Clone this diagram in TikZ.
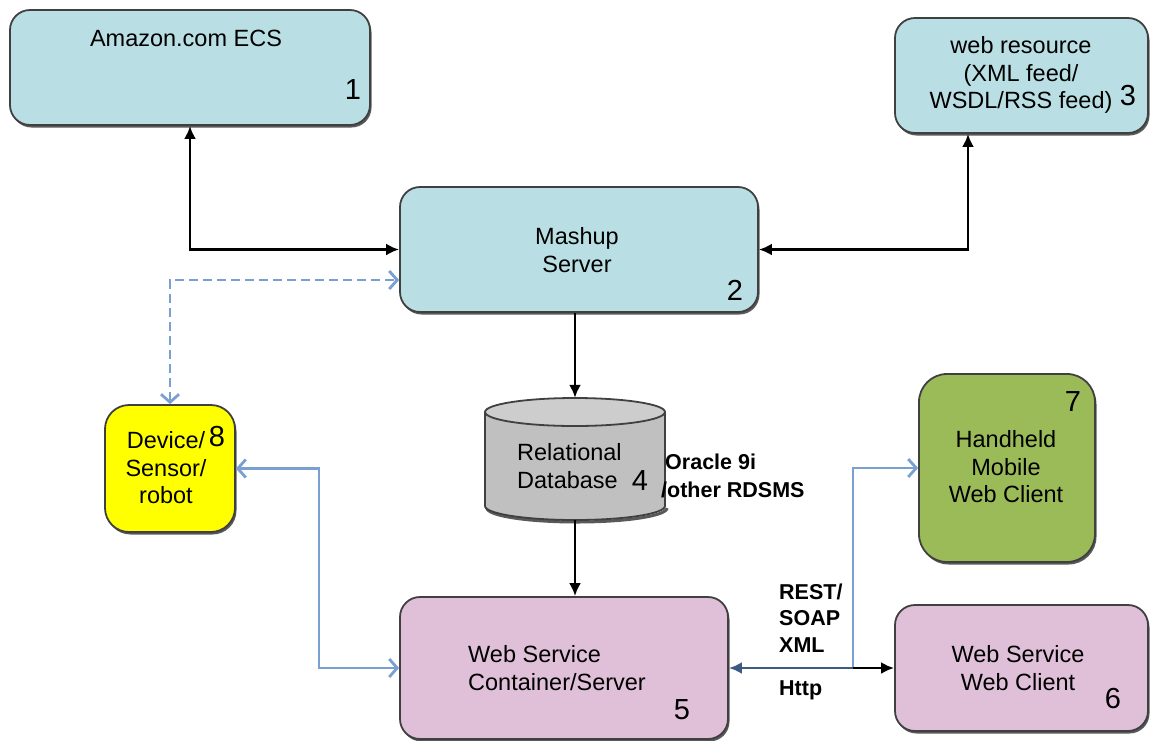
\documentclass[tikz,border=0pt]{standalone}
\usepackage{fontspec}
\setmainfont{Liberation Sans}
\usetikzlibrary{arrows.meta,shadows,calc}
\definecolor{cyanbox}{RGB}{185,223,228}
\definecolor{pinkbox}{RGB}{223,192,216}
\definecolor{greenbox}{RGB}{155,187,89}
\definecolor{yellowbox}{RGB}{255,255,0}
\definecolor{dbgray}{RGB}{192,192,192}
\definecolor{edge}{RGB}{64,64,64}
\definecolor{lblue}{RGB}{122,160,210}
\definecolor{dblue}{RGB}{60,90,130}
\begin{document}
\begin{tikzpicture}[x=1pt,y=-1pt,
 box/.style={draw=edge, line width=1.8pt, rounded corners=20pt,
   drop shadow={shadow xshift=1.5pt,shadow yshift=-2.5pt,fill=black!65,opacity=1},
   inner sep=0pt},
 txt/.style={font=\fontsize{23.5}{27.5}\selectfont, inner sep=0pt, align=center},
 txtl/.style={font=\fontsize{23.5}{27.5}\selectfont, inner sep=0pt, align=left},
 num/.style={font=\fontsize{29}{30}\selectfont, inner sep=0pt},
 lab/.style={font=\bfseries\fontsize{21.5}{26}\selectfont, inner sep=0pt, anchor=west},
 blk/.style={draw=black, line width=2.8pt},
 btip/.style={-{Latex[length=13pt,width=12pt]}},
 bbtip/.style={{Latex[length=13pt,width=12pt]}-{Latex[length=13pt,width=12pt]}},
 blu/.style={draw=lblue, line width=2.8pt, {Straight Barb[length=8pt,width=18pt]}-{Straight Barb[length=8pt,width=18pt]}},
]
\useasboundingbox (0,0) rectangle (1151,740);

% boxes
\node[box, fill=cyanbox, minimum width=360pt, minimum height=115pt] (amazon) at (190,67.5) {};
\node[box, fill=cyanbox, minimum width=253pt, minimum height=115pt] (web) at (1021.5,75.5) {};
\node[box, fill=cyanbox, minimum width=358pt, minimum height=125pt] (mashup) at (579,249.5) {};
\node[box, fill=pinkbox, minimum width=328pt, minimum height=142pt] (ws5) at (564,668) {};
\node[box, fill=pinkbox, minimum width=253pt, minimum height=126pt] (ws6) at (1021.5,668) {};
\node[box, fill=greenbox, minimum width=176pt, minimum height=188pt, rounded corners=28pt] (hand) at (1007,468) {};
\node[box, fill=yellowbox, minimum width=130pt, minimum height=127pt, rounded corners=24pt] (device) at (170,468.5) {};
\node[minimum width=180pt, minimum height=122pt, inner sep=0pt] (db) at (575,459) {};

% cylinder
\draw[black!65, line width=3pt] (487,508) arc[start angle=180, end angle=0, x radius=90, y radius=14];
\draw[draw=edge, line width=1.8pt, fill=dbgray] (485,412) -- (485,506)
  arc[start angle=180, end angle=0, x radius=90, y radius=14] -- (665,412);
\draw[draw=edge, line width=1.8pt, fill=dbgray!80!white] (575,412) ellipse[x radius=90, y radius=14];

% texts
\node[txt] at (186,38) {Amazon.com ECS};
\node[num] at (353,90) {1};
\node[txt] at (1021,75) {web resource\\(XML feed/\\WSDL/RSS feed)};
\node[num] at (1128,96) {3};
\node[txt] at (577,250) {Mashup\\Server};
\node[num] at (735,290) {2};
\node[txtl, anchor=west] at (517,466) {Relational\\Database};
\node[num] at (640,481) {4};
\node[lab] at (665,462) {Oracle 9i};
\node[lab] at (661,490) {/other RDSMS};
\node[txt] at (166,468) {Device/\\Sensor/\\robot};
\node[num] at (217,437) {8};
\node[txtl, anchor=west] at (468,668) {Web Service\\Container/Server};
\node[num] at (682,710) {5};
\node[txt] at (1018,668) {Web Service\\Web Client};
\node[num] at (1113,699) {6};
\node[txt] at (1006,467) {Handheld\\Mobile\\Web Client};
\node[num] at (1073,402) {7};
\node[lab] at (779,592) {REST/};
\node[lab] at (779,618) {SOAP};
\node[lab] at (779,645) {XML};
\node[lab] at (779,690) {Http};

% connectors
\coordinate (wx) at (968,0);
\coordinate (jx) at (853,0);
\draw[blk, bbtip] (amazon.south) |- (mashup.west);
\draw[blk, bbtip] (mashup.east) -| (web.south -| wx);
\draw[blk, btip] (mashup.south -| db) -- (db.north);
\draw[blk, btip] (db.south) -- (ws5.north -| db);
\draw[blu, dashed, dash pattern=on 9pt off 5pt] (device.north) |- ($(mashup.west)+(0,30.5)$);
\draw[blu] (device.east) -- ++(83,0) |- (ws5.west);
\coordinate (junc) at (ws5.east -| jx);
\draw[draw=lblue, line width=2.8pt, -{Straight Barb[length=8pt,width=18pt]}] (junc) |- (hand.west);
\draw[draw=dblue, line width=2.8pt, -{Latex[length=13pt,width=12pt]}] (junc) -- (ws5.east);
\draw[blk, btip] (junc) -- (ws6.west);
\end{tikzpicture}
\end{document}
